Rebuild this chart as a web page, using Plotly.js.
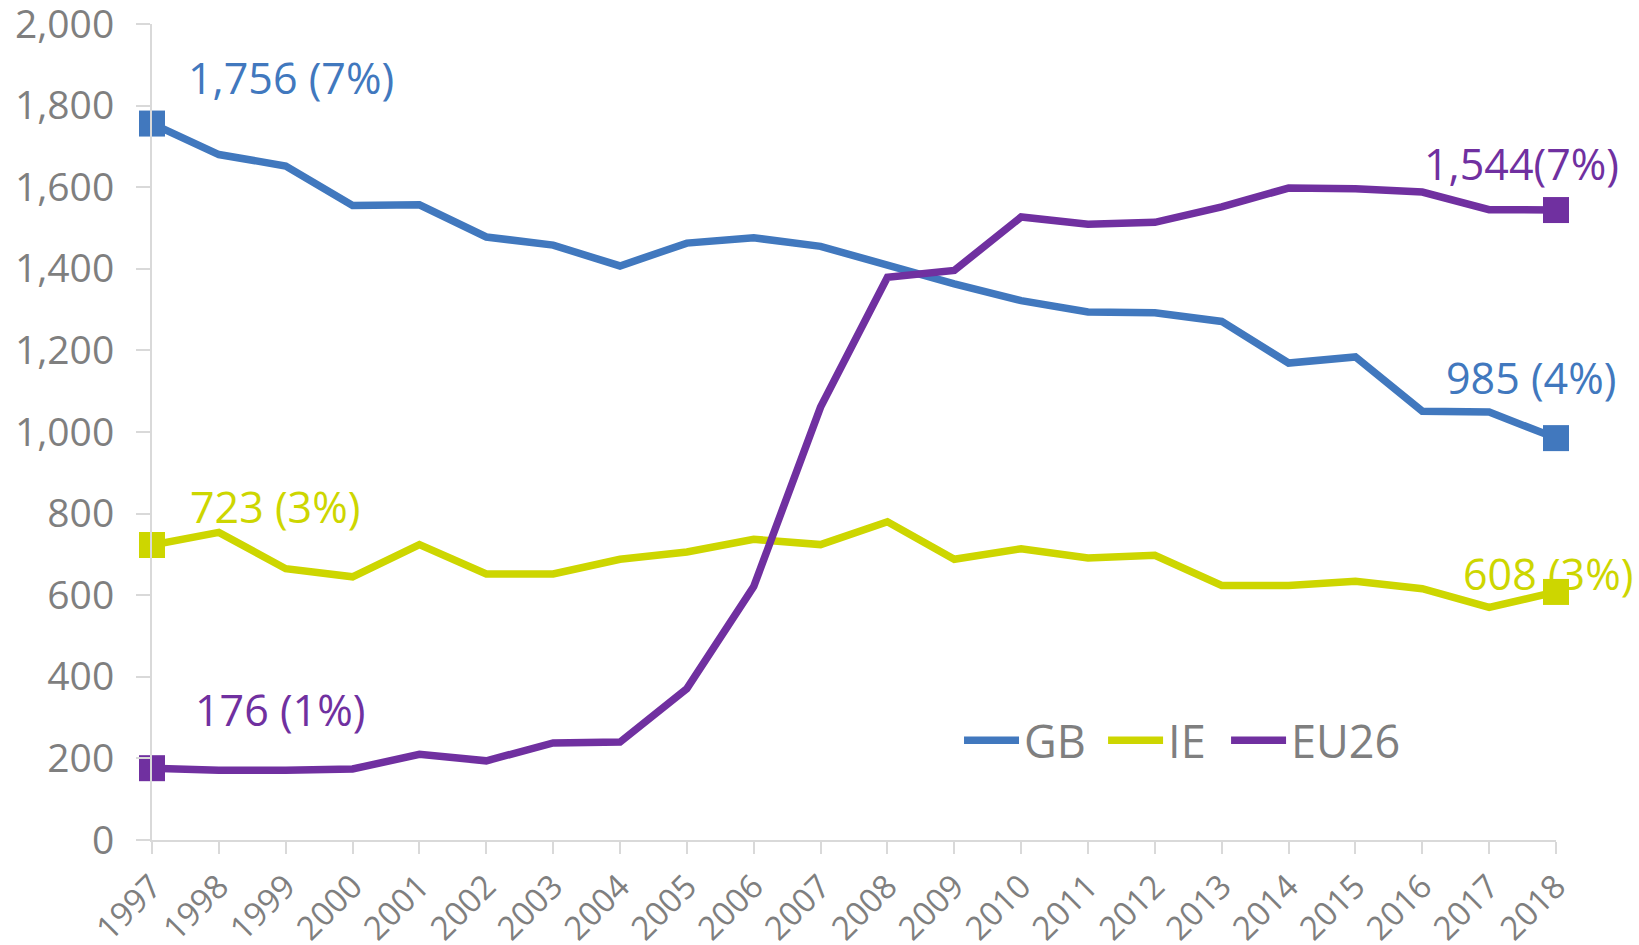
<!DOCTYPE html>
<html>
<head>
<meta charset="utf-8">
<script src="https://cdn.plot.ly/plotly-3.0.1.min.js"></script>
<style>
html,body{margin:0;padding:0;background:#fff;}
#chart{width:1639px;height:945px;}
</style>
</head>
<body>
<div id="chart"></div>
<script>
const years = [1997,1998,1999,2000,2001,2002,2003,2004,2005,2006,2007,2008,2009,2010,2011,2012,2013,2014,2015,2016,2017,2018];
const gb = [1756,1680,1652,1555,1557,1478,1458,1407,1463,1476,1455,1409,1363,1322,1294,1292,1271,1169,1184,1051,1049,985];
const ie = [723,754,665,645,724,652,652,688,706,737,724,780,688,714,691,698,624,624,634,616,570,608];
const eu26 = [176,171,171,174,210,194,238,240,371,621,1061,1379,1396,1527,1509,1514,1552,1598,1596,1588,1545,1544];
const seriesNames = ['GB','IE','EU26'];
const colors = ['#4178be','#cdd600','#7030a0'];
const yTicks = [0,200,400,600,800,1000,1200,1400,1600,1800,2000];
const labelTexts = {
  GB: ['1,756 (7%)','985 (4%)'],
  IE: ['723 (3%)','608 (3%)'],
  EU26: ['176 (1%)','1,544(7%)']
};

const font = "'Open Sans', 'Noto Sans', sans-serif";
const legendIds = ['legend','legend2','legend3'];
const allSeries = [gb, ie, eu26];
const traces = [];
allSeries.forEach((vals, i) => {
  traces.push({
    x: years, y: vals, type: 'scatter', mode: 'lines',
    name: seriesNames[i],
    line: {color: colors[i], width: 7.5},
    legend: legendIds[i],
    cliponaxis: false
  });
  traces.push({
    x: [years[0], years[years.length-1]],
    y: [vals[0], vals[vals.length-1]],
    type: 'scatter', mode: 'markers',
    marker: {symbol: 'square', size: 26, color: colors[i]},
    showlegend: false, hoverinfo: 'skip',
    cliponaxis: false
  });
});

const annFont = (c) => ({family: font, size: 43, color: c});
const annotations = [
  {x: 1999.08, y: 1870, text: labelTexts.GB[0], font: annFont(colors[0])},
  {x: 2017.62, y: 1134, text: labelTexts.GB[1], font: annFont(colors[0])},
  {x: 1998.84, y: 818, text: labelTexts.IE[0], font: annFont(colors[1])},
  {x: 2017.88, y: 652, text: labelTexts.IE[1], font: annFont(colors[1])},
  {x: 1998.92, y: 321, text: labelTexts.EU26[0], font: annFont(colors[2])},
  {x: 2017.48, y: 1659, text: labelTexts.EU26[1], font: annFont(colors[2])}
].map(a => Object.assign({xref:'x', yref:'y', showarrow:false, xanchor:'center', yanchor:'middle'}, a));

const legendBase = {
  orientation: 'h', y: 0.122, xanchor: 'left', yanchor: 'middle',
  font: {family: font, size: 45, color: '#7f7f7f'},
  bgcolor: 'rgba(0,0,0,0)', itemwidth: 55
};

const layout = {
  width: 1639, height: 945,
  margin: {l: 152, r: 83, t: 24, b: 105},
  paper_bgcolor: '#ffffff', plot_bgcolor: '#ffffff',
  font: {family: font, color: '#7f7f7f'},
  showlegend: true,
  legend: Object.assign({}, legendBase, {x: 0.5748}),
  legend2: Object.assign({}, legendBase, {x: 0.6774}),
  legend3: Object.assign({}, legendBase, {x: 0.765}),
  xaxis: {
    range: [1997, 2018], tickmode: 'array', tickvals: years, ticktext: years.map(String),
    tickangle: -45, tickfont: {family: font, size: 33, color: '#7f7f7f'},
    ticklabeloverflow: 'allow',
    showline: true, linecolor: '#d9d9d9', linewidth: 2,
    ticks: 'outside', ticklen: 12, tickcolor: '#d9d9d9', tickwidth: 2,
    showgrid: false, zeroline: false, fixedrange: true
  },
  yaxis: {
    range: [0, 2000.01], tickmode: 'array', tickvals: yTicks,
    ticktext: yTicks.map(v => v.toLocaleString('en-US')),
    tickfont: {family: font, size: 39, color: '#7f7f7f'},
    ticklabeloverflow: 'allow',
    showline: true, linecolor: '#d9d9d9', linewidth: 2,
    ticks: 'outside', ticklen: 14, tickcolor: '#d9d9d9', tickwidth: 2,
    ticklabelstandoff: 14,
    showgrid: false, zeroline: false, fixedrange: true
  },
  annotations: annotations
};

Plotly.newPlot('chart', traces, layout, {displayModeBar: false, staticPlot: true});
</script>
</body>
</html>
